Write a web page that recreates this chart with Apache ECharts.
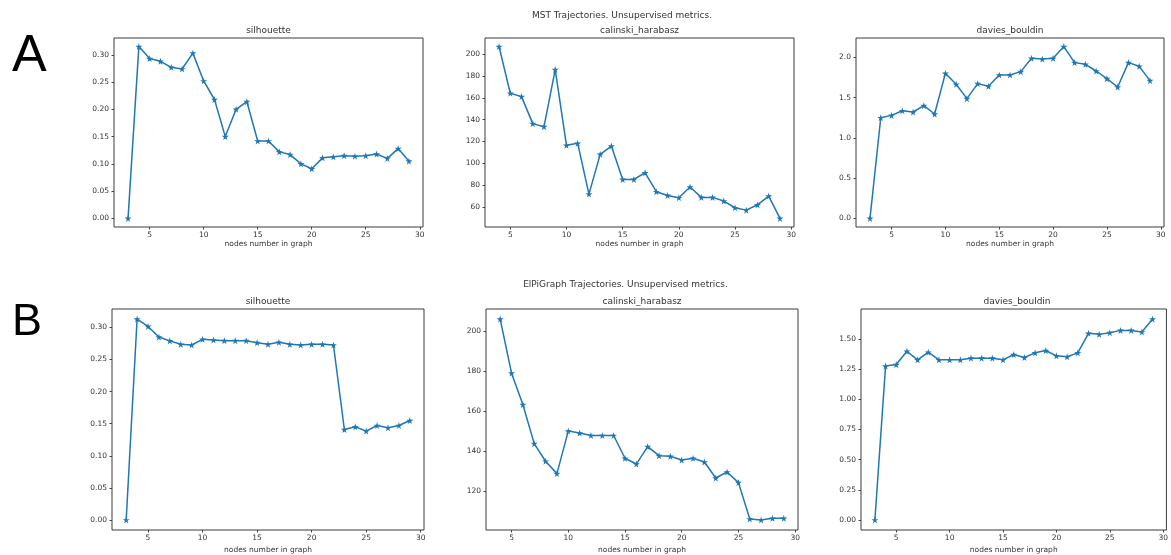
<!DOCTYPE html>
<html>
<head>
<meta charset="utf-8">
<script src="https://cdn.jsdelivr.net/npm/echarts@6/dist/echarts.min.js"></script>
<style>
html,body{margin:0;padding:0;background:#fff;}
#c{width:1171px;height:555px;}
</style>
</head>
<body>
<div id="c"></div>
<script>
// ---- data ----
var nodes3 = [3,4,5,6,7,8,9,10,11,12,13,14,15,16,17,18,19,20,21,22,23,24,25,26,27,28,29];
var nodes4 = [4,5,6,7,8,9,10,11,12,13,14,15,16,17,18,19,20,21,22,23,24,25,26,27,28,29];

var mstSilhouette = [0.000,0.315,0.293,0.288,0.277,0.274,0.303,0.252,0.218,0.150,0.200,0.214,0.142,0.142,0.122,0.117,0.100,0.091,0.111,0.113,0.115,0.114,0.115,0.118,0.110,0.128,0.105];
var mstCalinski = [207.0,164.2,161.1,136.3,133.5,185.9,116.4,118.2,71.6,108.1,115.7,85.1,85.1,91.2,73.8,70.4,68.3,78.1,68.6,68.6,65.2,59.1,56.9,61.8,69.8,49.3];
var mstDavies = [0.000,1.250,1.279,1.337,1.321,1.400,1.296,1.801,1.665,1.487,1.673,1.640,1.781,1.781,1.822,1.988,1.979,1.988,2.133,1.934,1.913,1.830,1.735,1.631,1.934,1.888,1.710];

var elpSilhouette = [0.000,0.313,0.3015,0.285,0.279,0.2736,0.2726,0.2814,0.2804,0.2793,0.2793,0.2793,0.2762,0.2736,0.2767,0.2736,0.2726,0.2736,0.2736,0.2726,0.1409,0.1451,0.1384,0.1472,0.1436,0.1472,0.1549];
var elpCalinski = [206.0,178.9,163.2,143.6,134.8,128.6,149.9,148.9,147.7,147.7,147.7,136.3,133.4,142.1,137.6,137.3,135.4,136.3,134.4,126.4,129.4,124.1,105.9,105.4,106.2,106.2];
var elpDavies = [0.000,1.275,1.288,1.398,1.327,1.390,1.327,1.327,1.327,1.341,1.341,1.341,1.327,1.371,1.346,1.385,1.404,1.360,1.352,1.385,1.547,1.538,1.552,1.571,1.571,1.558,1.665];

var xTicks = [5,10,15,20,25,30];
var yTicksSil = [0,0.05,0.10,0.15,0.20,0.25,0.30];
var yTicksCalA = [60,80,100,120,140,160,180,200];
var yTicksDavA = [0,0.5,1.0,1.5,2.0];
var yTicksCalB = [120,140,160,180,200];
var yTicksDavB = [0,0.25,0.5,0.75,1.0,1.25,1.5];

var titleA = 'MST Trajectories. Unsupervised metrics.';
var titleB = 'ElPiGraph Trajectories. Unsupervised metrics.';
var xName = 'nodes number in graph';

// ---- layout ----
var FONT = 'DejaVu Sans';
var panels = [
  {name:'silhouette', x:nodes3, y:mstSilhouette, yt:yTicksSil, dec:2, g:{left:114, top:38, width:309, height:189}, gap:13},
  {name:'calinski_harabasz', x:nodes4, y:mstCalinski, yt:yTicksCalA, dec:0, g:{left:485, top:38, width:309, height:189}, gap:13},
  {name:'davies_bouldin', x:nodes3, y:mstDavies, yt:yTicksDavA, dec:1, g:{left:856, top:38, width:308, height:189}, gap:13},
  {name:'silhouette', x:nodes3, y:elpSilhouette, yt:yTicksSil, dec:2, g:{left:112, top:309, width:312, height:222}, gap:16},
  {name:'calinski_harabasz', x:nodes4, y:elpCalinski, yt:yTicksCalB, dec:0, g:{left:486, top:309, width:312, height:222}, gap:16},
  {name:'davies_bouldin', x:nodes3, y:elpDavies, yt:yTicksDavB, dec:2, g:{left:861, top:309, width:312, height:222}, gap:16}
];

var STAR = 'path://M50,0 L61,35 L98,35 L68,57 L79,91 L50,70 L21,91 L32,57 L2,35 L39,35 Z';

function padMin(arr){ var mn=Math.min.apply(null,arr), mx=Math.max.apply(null,arr); return mn-(mx-mn)*0.05; }
function padMax(arr){ var mn=Math.min.apply(null,arr), mx=Math.max.apply(null,arr); return mx+(mx-mn)*0.05; }

var grids=[], xAxes=[], yAxes=[], series=[], graphics=[];
panels.forEach(function(p,i){
  grids.push({left:p.g.left, top:p.g.top, width:p.g.width, height:p.g.height, show:true, borderColor:'#3a3a3a', borderWidth:1, backgroundColor:'transparent', containLabel:false});
  xAxes.push({type:'value', gridIndex:i, min:padMin(p.x), max:padMax(p.x), position:'bottom',
    name:xName, nameLocation:'middle', nameGap:p.gap, nameTextStyle:{fontFamily:FONT, fontSize:7.5, color:'#333'},
    axisLine:{show:false, onZero:false}, splitLine:{show:false},
    axisTick:{show:true, inside:false, customValues:xTicks, length:2.5, lineStyle:{color:'#444', width:1}},
    axisLabel:{customValues:xTicks, fontFamily:FONT, fontSize:7.5, color:'#333', margin:4, formatter:function(v){return String(Math.round(v));}}
  });
  (function(dec){
  yAxes.push({type:'value', gridIndex:i, min:padMin(p.y), max:padMax(p.y), position:'left',
    axisLine:{show:false, onZero:false}, splitLine:{show:false},
    axisTick:{show:true, inside:false, customValues:p.yt, length:2.5, lineStyle:{color:'#444', width:1}},
    axisLabel:{customValues:p.yt, fontFamily:FONT, fontSize:7.5, color:'#333', margin:5, formatter:function(v){return v.toFixed(dec);}}
  });
  })(p.dec);
  series.push({type:'line', xAxisIndex:i, yAxisIndex:i,
    data:p.x.map(function(xv,k){return [xv,p.y[k]];}),
    symbol:STAR, symbolSize:7, showAllSymbol:true,
    lineStyle:{color:'#1f77b4', width:1.5}, itemStyle:{color:'#1f77b4'}, silent:true, animation:false
  });
  graphics.push({type:'text', style:{x:p.g.left+p.g.width/2, y:p.g.top-7.5, text:p.name, textAlign:'center', textVerticalAlign:'middle', fontFamily:FONT, fontSize:9, fill:'#333'}});
});

graphics.push({type:'text', style:{x:622, y:16, text:titleA, textAlign:'center', textVerticalAlign:'middle', fontFamily:FONT, fontSize:9, fill:'#333'}});
graphics.push({type:'text', style:{x:625.5, y:285, text:titleB, textAlign:'center', textVerticalAlign:'middle', fontFamily:FONT, fontSize:9, fill:'#333'}});
graphics.push({type:'text', style:{x:12, y:83, text:'A', textAlign:'left', textVerticalAlign:'bottom', fontFamily:'Liberation Sans', fontSize:52, fill:'#000'}});
graphics.push({type:'text', style:{x:12, y:345, text:'B', textAlign:'left', textVerticalAlign:'bottom', fontFamily:'Liberation Sans', fontSize:45, fill:'#000'}});

var chart = echarts.init(document.getElementById('c'), null, {renderer:'canvas'});
chart.setOption({
  animation:false,
  backgroundColor:'#fff',
  grid:grids, xAxis:xAxes, yAxis:yAxes, series:series, graphic:graphics
});
</script>
</body>
</html>
